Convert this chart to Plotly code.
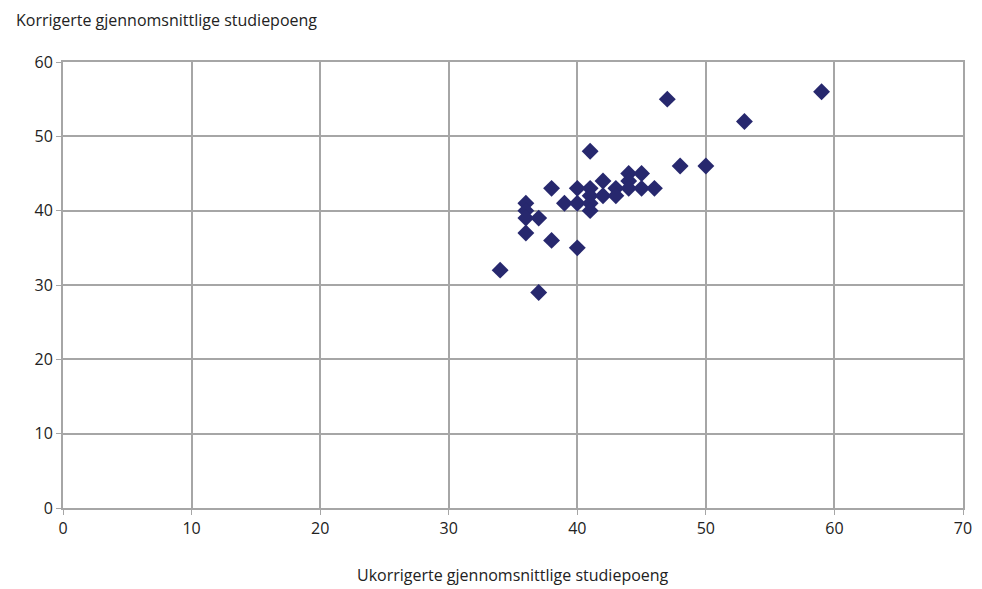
import plotly.graph_objects as go

ukorrigert = [34, 37, 36, 36, 36, 37, 36, 38, 38, 39, 40, 40, 40, 41, 41, 41, 41, 41,
              42, 42, 43, 43, 44, 44, 44, 45, 45, 46, 47, 48, 50, 53, 59]
korrigert = [32, 29, 41, 40, 39, 39, 37, 36, 43, 41, 43, 41, 35, 48, 43, 42, 41, 40,
             44, 42, 43, 42, 45, 44, 43, 45, 43, 43, 55, 46, 46, 52, 56]

fig = go.Figure(go.Scatter(
    x=ukorrigert, y=korrigert, mode="markers",
    marker=dict(symbol="diamond", size=13, color="#27286e"),
))

grid = dict(showgrid=True, gridcolor="#a6a6a6", gridwidth=2, zeroline=False,
            showline=True, linecolor="#a6a6a6", linewidth=2, mirror=True,
            ticks="outside", tickcolor="#a6a6a6", ticklen=5,
            tickfont=dict(size=16, color="#222"))

# page body has an 8px margin, so the figure is shifted by it
fig.update_layout(
    width=974, height=581, margin=dict(l=55, r=10, t=54, b=81),
    paper_bgcolor="white", plot_bgcolor="white",
    font=dict(family="Open Sans", color="#222"),
    showlegend=False,
    xaxis=dict(range=[0, 70], dtick=10, **grid),
    yaxis=dict(range=[0, 60], dtick=10, **grid),
    annotations=[
        dict(text="Korrigerte gjennomsnittlige studiepoeng", xref="paper", yref="paper",
             x=-0.055, y=1.065, xanchor="left", yanchor="bottom", showarrow=False,
             font=dict(size=16)),
        dict(text="Ukorrigerte gjennomsnittlige studiepoeng", xref="paper", yref="paper",
             x=0.5, y=-0.12, xanchor="center", yanchor="top", showarrow=False,
             font=dict(size=16)),
    ],
)

fig.write_html("out.html")
